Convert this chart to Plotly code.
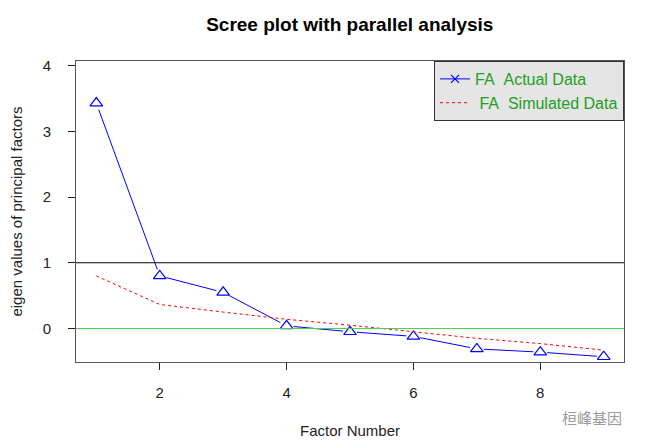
import plotly.graph_objects as go

factors = [1, 2, 3, 4, 5, 6, 7, 8, 9]
actual = [3.43, 0.80, 0.55, 0.04, -0.05, -0.12, -0.31, -0.36, -0.43]
simulated = [0.80, 0.365, 0.25, 0.14, 0.05, -0.05, -0.15, -0.23, -0.33]
x_ticks = [2, 4, 6, 8]
y_ticks = [0, 1, 2, 3, 4]

X_RANGE = [0.68, 9.32]
Y_RANGE = [-0.51, 4.07]
# page body has an 8px margin, so the figure is drawn slightly smaller
W, H = 640, 437
M = dict(l=68, r=24, t=53, b=83)
pw = W - M["l"] - M["r"]
ph = H - M["t"] - M["b"]
sx = pw / (X_RANGE[1] - X_RANGE[0])
sy = ph / (Y_RANGE[1] - Y_RANGE[0])

# R type="b": segments with gaps around the points
gap = 7.0
seg_x, seg_y = [], []
for i in range(len(factors) - 1):
    x0, y0 = factors[i] * sx, actual[i] * sy
    x1, y1 = factors[i + 1] * sx, actual[i + 1] * sy
    dx, dy = x1 - x0, y1 - y0
    L = (dx * dx + dy * dy) ** 0.5
    if L > 2 * gap:
        ux, uy = dx / L, dy / L
        seg_x += [(x0 + ux * gap) / sx, (x1 - ux * gap) / sx, None]
        seg_y += [(y0 + uy * gap) / sy, (y1 - uy * gap) / sy, None]

FONT = "Liberation Sans, Arial"

fig = go.Figure()
fig.add_trace(go.Scatter(x=seg_x, y=seg_y, mode="lines",
                         line=dict(color="blue", width=1), showlegend=False,
                         hoverinfo="skip"))
fig.add_trace(go.Scatter(x=factors, y=actual, mode="markers",
                         marker=dict(symbol="triangle-up-open", size=11,
                                     color="blue", line=dict(width=1.2, color="blue")),
                         showlegend=False))
fig.add_trace(go.Scatter(x=factors, y=simulated, mode="lines",
                         line=dict(color="red", width=1, dash="dot"),
                         showlegend=False))
# legend entries
fig.add_trace(go.Scatter(x=[None], y=[None], mode="lines+markers",
                         name="FA\u00a0\u00a0Actual Data",
                         line=dict(color="blue", width=1),
                         marker=dict(symbol="x-thin-open", size=8,
                                     line=dict(color="blue", width=1.2), color="blue")))
fig.add_trace(go.Scatter(x=[None], y=[None], mode="lines",
                         name="\u00a0FA\u00a0\u00a0Simulated Data",
                         line=dict(color="red", width=1, dash="dot")))

fig.add_shape(type="line", xref="paper", x0=0, x1=1, yref="y", y0=1, y1=1,
              line=dict(color="black", width=1))
fig.add_shape(type="line", xref="paper", x0=0, x1=1, yref="y", y0=0, y1=0,
              line=dict(color="rgb(70,210,70)", width=1))

fig.add_annotation(text="桓峰基因", xref="paper", yref="paper", x=1.0, y=-0.186,
                   xanchor="right", yanchor="middle", showarrow=False,
                   font=dict(family="Noto Sans CJK SC", size=15, color="#9a9a9a"))

axis_common = dict(showgrid=False, zeroline=False, showline=True, mirror=True,
                   linecolor="#555555", linewidth=1, ticks="outside", ticklen=7,
                   tickcolor="#222222", tickwidth=1, automargin=False,
                   tickfont=dict(family=FONT, size=15, color="#222222"))

fig.update_layout(
    width=W, height=H, margin=M,
    paper_bgcolor="white", plot_bgcolor="white",
    title=dict(text="<b>Scree plot with parallel analysis</b>", x=0.534, xanchor="center",
               y=0.962, yanchor="middle",
               font=dict(family=FONT, size=19, color="black")),
    xaxis=dict(range=X_RANGE, tickvals=x_ticks, ticklabelstandoff=10,
               title=dict(text="Factor Number", standoff=25,
                          font=dict(family=FONT, size=15, color="#222222")),
               **axis_common),
    yaxis=dict(range=Y_RANGE, tickvals=y_ticks, ticklabelstandoff=14,
               title=dict(text="eigen values of principal factors", standoff=32,
                          font=dict(family=FONT, size=15, color="#222222")),
               **axis_common),
    legend=dict(x=1, xanchor="right", y=1, yanchor="top",
                bgcolor="#e5e5e5", bordercolor="#333333", borderwidth=1,
                font=dict(family=FONT, size=16, color="#22a022"),
                tracegroupgap=0, itemwidth=30),
    showlegend=True,
)

fig.write_html("out.html")
